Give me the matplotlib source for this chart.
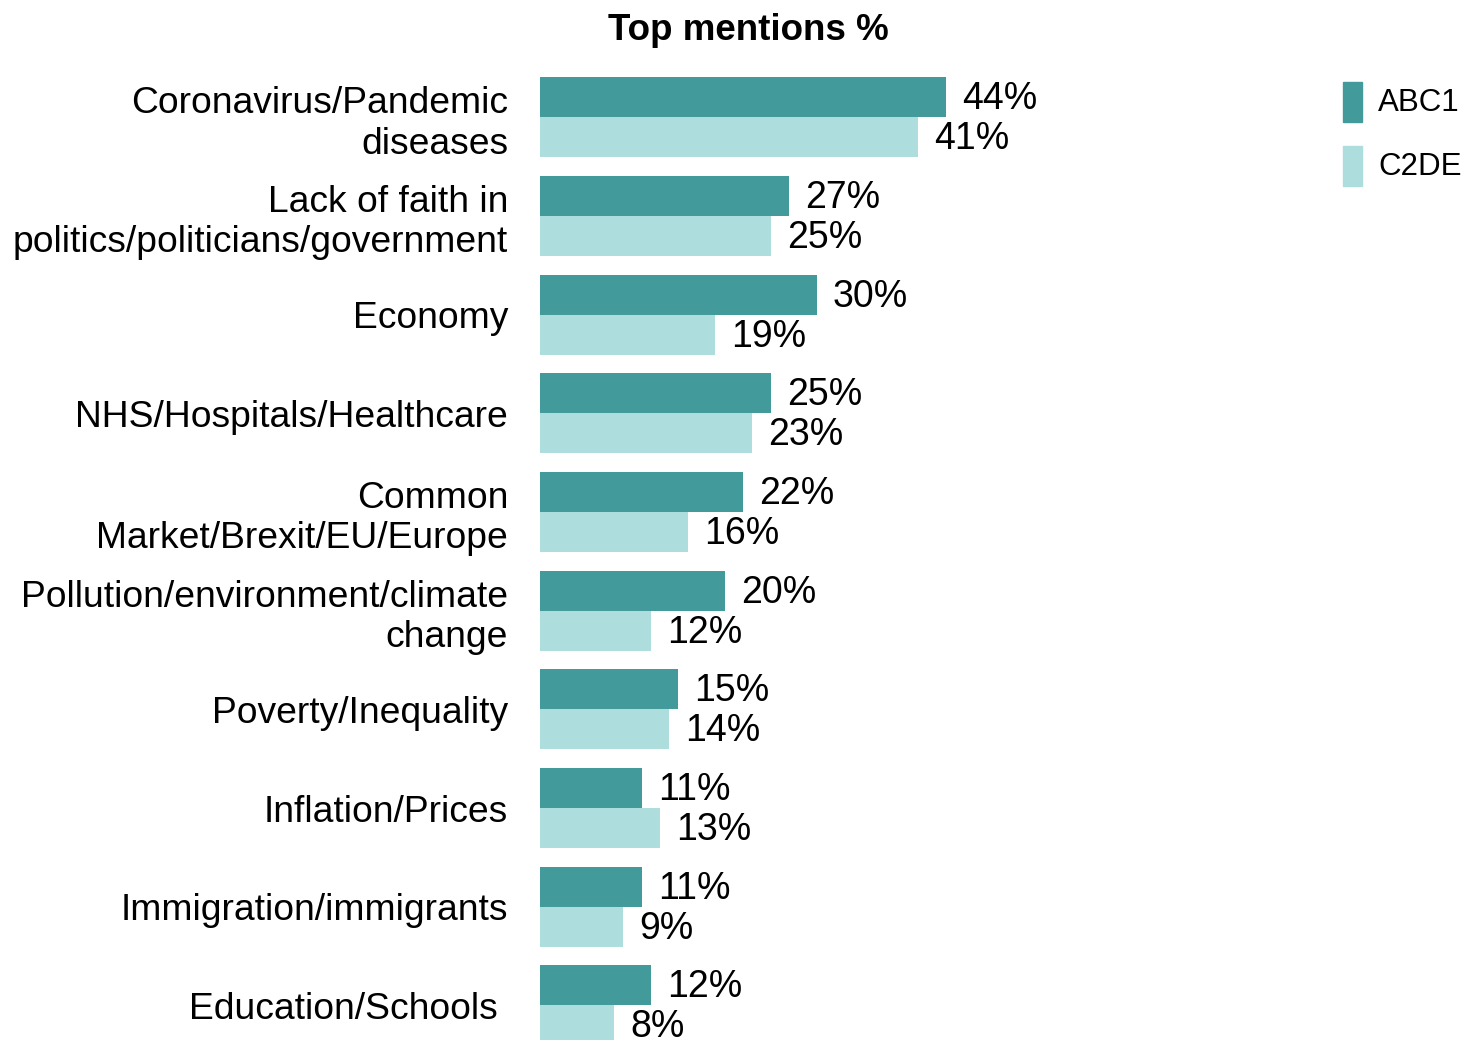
import numpy as np
import matplotlib.pyplot as plt
from matplotlib.patches import Rectangle

plt.rcParams['font.family'] = ['Liberation Sans', 'DejaVu Sans']

# data
categories = ['Coronavirus/Pandemic\ndiseases',
              'Lack of faith in\npolitics/politicians/government',
              'Economy',
              'NHS/Hospitals/Healthcare',
              'Common\nMarket/Brexit/EU/Europe',
              'Pollution/environment/climate\nchange',
              'Poverty/Inequality',
              'Inflation/Prices',
              'Immigration/immigrants',
              'Education/Schools ']
series_names = ['ABC1', 'C2DE']
abc1 = [44, 27, 30, 25, 22, 20, 15, 11, 11, 12]
c2de = [41, 25, 19, 23, 16, 12, 14, 13, 9, 8]
colors = ['#439a9a', '#addddc']

W, H = 1465, 1040
fig = plt.figure(figsize=(W / 100, H / 100), dpi=100)
ax = fig.add_axes([540 / W, 0, 760 / W, 982 / H])

y = np.arange(len(categories))
h = 0.405
for vals, off, c in zip([abc1, c2de], [-h / 2, h / 2], colors):
    bars = ax.barh(y + off, vals, height=h, color=c)
    for b, v in zip(bars, vals):
        ax.text(v + 1.75, b.get_y() + h / 2 + 0.02, f'{v}%', va='center',
                ha='left', fontsize=27)

ax.set_xlim(0, 760 / 9.23)
ax.set_ylim(9.35, -0.6)
ax.set_yticks(y)
ax.set_yticklabels(categories, fontsize=26.8, linespacing=1.2)
ax.tick_params(axis='y', length=0, pad=23)
ax.set_xticks([])
for s in ax.spines.values():
    s.set_visible(False)

fig.text(748 / W, 1 - 30 / H, 'Top mentions %', ha='center', va='center',
         fontsize=26.5, fontweight='bold')

# legend
for i, (name, c) in enumerate(zip(series_names, colors)):
    top = 82 + i * 64
    fig.add_artist(Rectangle((1343 / W, 1 - (top + 40) / H), 19 / W, 40 / H,
                             color=c, transform=fig.transFigure))
    fig.text(1378 / W, 1 - (top + 21) / H, name, ha='left', va='center',
             fontsize=22.5)

fig.savefig('out.png', dpi=100)
